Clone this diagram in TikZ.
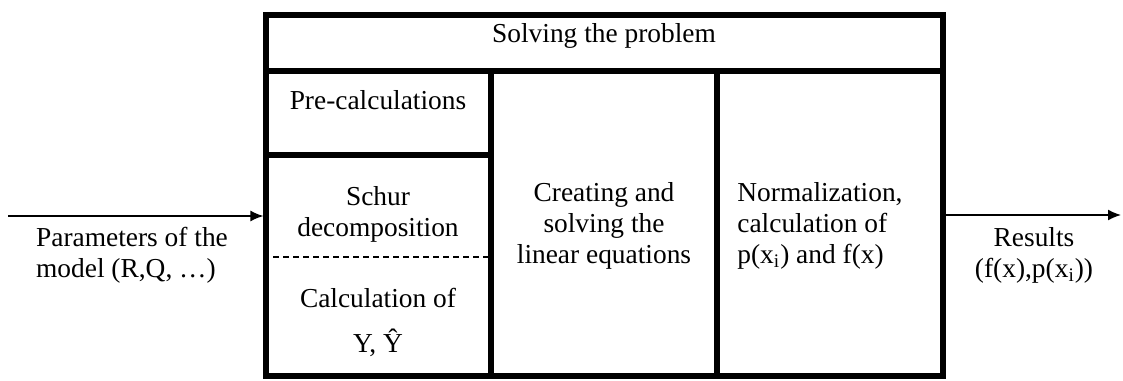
\documentclass[tikz,border=0pt]{standalone}
\usepackage{fontspec}
\setmainfont{Liberation Serif}
\usetikzlibrary{arrows.meta}
\newcommand*{\px  }{0.5pt}
\newcommand*{\wcol}{226}
\newcommand*{\hcol}{305}
\tikzset{
  cell/.style  = {draw, line width=2.6pt, inner sep=0pt},
  label/.style = {inner sep=0pt, align=center},
  flow/.style  = {line width=0.75pt, -{Latex[length=6.5pt, width=5.5pt]}}
}

\begin{document}
\begin{tikzpicture}[x=\px, y=-\px, font=\fontsize{13.7}{15.5}\selectfont]
    \useasboundingbox (0,0) rectangle (1123,380);
        % cells of the frame
        \node [cell, minimum width=677*\px,   minimum height=56*\px  ] (head)   at (604.5, 43) {};
        \node [cell, minimum width=225*\px,   minimum height=84*\px  ] (pre)    at (378.5,113) {};
        \node [cell, minimum width=225*\px,   minimum height=221*\px ] (schur)  at (378.5,265.5) {};
        \node [cell, minimum width=\wcol*\px, minimum height=\hcol*\px] (create) at (604,223.5) {};
        \node [cell, minimum width=\wcol*\px, minimum height=\hcol*\px] (norm)   at (830,223.5) {};
        \draw [dashed, dash pattern=on 3pt off 2pt, line width=0.6pt] (schur.west |- 0,257) -- (schur.east |- 0,257);
        % texts
        \node [label] (tHead)   at (604,36)  {Solving the problem};
        \node [label] (tPre)    at (378,100) {Pre-calculations};
        \node [label] (tSchur)  at (378,214) {Schur\\decomposition};
        \node [label] (tCalc)   at (378,322) {Calculation of\\[7pt]Y, Ŷ};
        \node [label] (tCreate) at (604,226) {Creating and\\solving the\\linear equations};
        \node [label, align=left, anchor=west] (tNorm) at (737,226) {Normalization,\\calculation of\\p(x\textsubscript{i}) and f(x)};
        \node [label, align=left] (params)  at (132,255)  {Parameters of the\\model (R,Q, …)};
        \node [label] (results) at (1034,255) {Results\\(f(x),p(x\textsubscript{i}))};
        % in and out
        \coordinate (src) at (8,216);
        \coordinate (dst) at (1121,215);
        \draw [flow] (src) -- (src -| schur.west);
        \draw [flow] (norm.east |- dst) -- (dst);
    \end{tikzpicture}
\end{document}
